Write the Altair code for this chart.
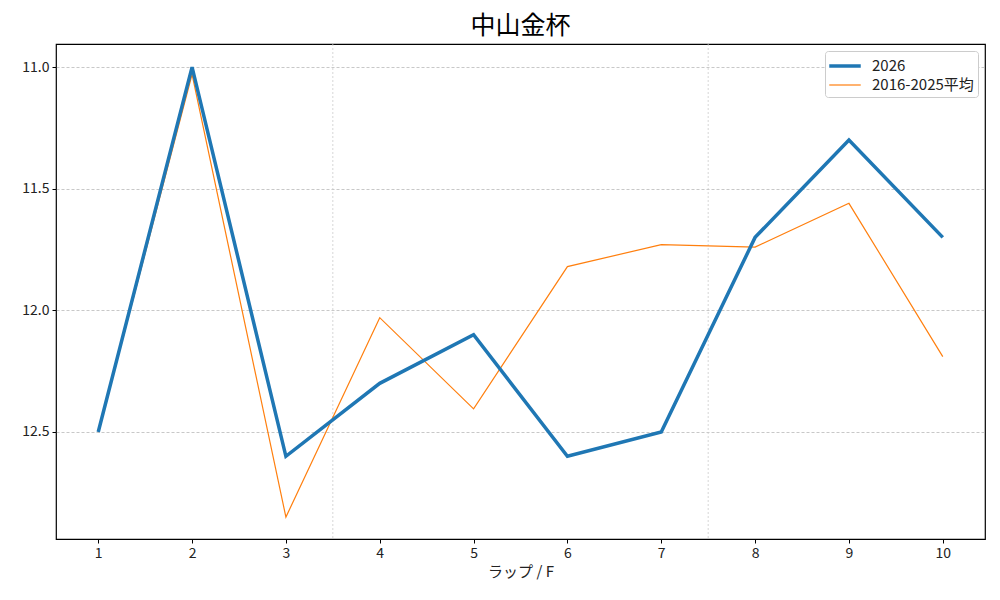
import altair as alt
import pandas as pd

laps = [1, 2, 3, 4, 5, 6, 7, 8, 9, 10]
y2026 = [12.5, 11.0, 12.6, 12.3, 12.1, 12.6, 12.5, 11.7, 11.3, 11.7]
avg = [12.5, 11.03, 12.85, 12.03, 12.405, 11.82, 11.73, 11.74, 11.56, 12.19]
series_names = ["2026", "2016-2025平均"]
separators = [3.5, 7.5]
y_ticks = [11.0, 11.5, 12.0, 12.5]

df_a = pd.DataFrame({"lap": laps, "time": y2026, "series": series_names[0]})
df_b = pd.DataFrame({"lap": laps, "time": avg, "series": series_names[1]})
sep_df = pd.DataFrame({"x": separators})

FONT = "Noto Sans CJK JP"

x_scale = alt.Scale(domain=[0.55, 10.45], nice=False, zero=False)
y_scale = alt.Scale(domain=[12.94, 10.905], nice=False, zero=False)

x_enc = alt.X("lap:Q", scale=x_scale,
              axis=alt.Axis(values=laps, format="d", title="ラップ / F", grid=False,
                            tickSize=4, tickColor="black", domain=False,
                            labelFontSize=14, titleFontSize=15, titleFontWeight="normal",
                            labelPadding=3, titlePadding=4,
                            labelColor="#222", titleColor="#222"))
y_enc = alt.Y("time:Q", scale=y_scale,
              axis=alt.Axis(values=y_ticks, format=".1f", title=None,
                            grid=True, gridDash=[3, 2], gridColor="#b0b0b0", gridWidth=0.7,
                            tickSize=4, tickColor="black", domain=False,
                            labelFontSize=14, labelPadding=3, labelColor="#222"))
color_enc = alt.Color("series:N", sort=series_names,
                      scale=alt.Scale(domain=series_names, range=["#1f77b4", "#ff7f0e"]),
                      legend=alt.Legend(title=None, orient="top-right",
                                        symbolType="M-1.75,0H1.75",
                                        labelFontSize=15, symbolSize=324,
                                        symbolOffset=5,
                                        strokeColor="#cccccc", fillColor="white",
                                        padding=4, cornerRadius=3, offset=7,
                                        labelColor="#222", rowPadding=1, labelOffset=16))
sw_enc = alt.StrokeWidth("series:N", sort=series_names,
                         scale=alt.Scale(domain=series_names, range=[3.5, 1.2]),
                         legend=None)

seps = alt.Chart(sep_df).mark_rule(
    color="#cccccc", strokeWidth=0.8, strokeDash=[2, 2]
).encode(x=alt.X("x:Q", scale=x_scale))

line_b = alt.Chart(df_b).mark_line().encode(
    x=x_enc, y=y_enc, color=color_enc, strokeWidth=sw_enc, order=alt.Order("lap:Q"))
line_a = alt.Chart(df_a).mark_line().encode(
    x=x_enc, y=y_enc, color=color_enc, strokeWidth=sw_enc, order=alt.Order("lap:Q"))

chart = alt.layer(seps, line_b, line_a).properties(
    width=929, height=495,
    title=alt.TitleParams("中山金杯", fontSize=25, font=FONT, fontWeight="normal",
                          anchor="middle", offset=5, color="black"),
    autosize=alt.AutoSizeParams(type="none"),
    padding={"left": 48, "top": 36, "right": 7, "bottom": 50},
).configure(font=FONT).configure_view(stroke="black", strokeWidth=1.2)

chart.save("out.html", embed_options={"renderer": "svg", "actions": False})
